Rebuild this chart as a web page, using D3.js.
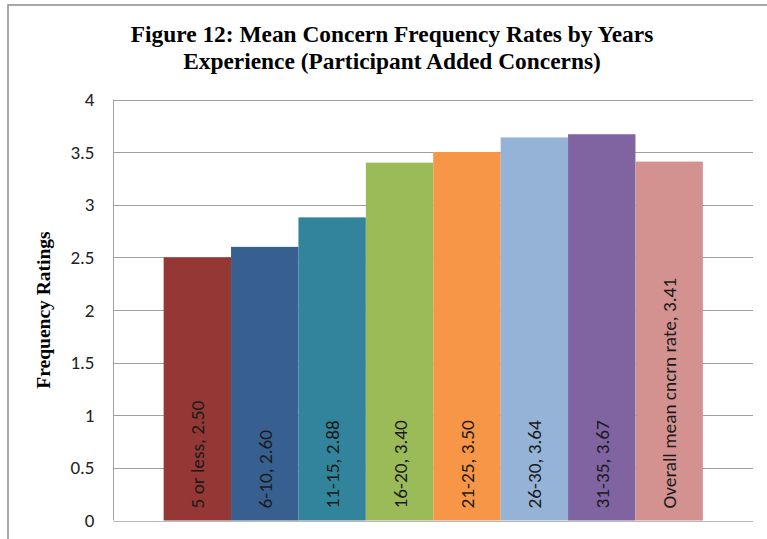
<!DOCTYPE html>
<html>
<head>
<meta charset="utf-8">
<script src="https://cdn.jsdelivr.net/npm/d3@7"></script>
<style>
  html, body { margin: 0; padding: 0; background: #fff; }
  svg { display: block; }
</style>
</head>
<body>
<svg id="chart" width="767" height="539"></svg>
<script>
// Mean concern frequency ratings by years of experience
const categories = ["5 or less", "6-10", "11-15", "16-20", "21-25", "26-30", "31-35", "Overall mean cncrn rate"];
const values = [2.50, 2.60, 2.88, 3.40, 3.50, 3.64, 3.67, 3.41];
const colors = ["#953735", "#375f8f", "#31849b", "#9bbb59", "#f79646", "#95b3d7", "#8064a2", "#d39290"];
const yTicks = [0, 0.5, 1, 1.5, 2, 2.5, 3, 3.5, 4];
const titleLines = ["Figure 12: Mean Concern Frequency Rates by Years", "Experience (Participant Added Concerns)"];
const yTitle = "Frequency Ratings";

const svg = d3.select("#chart");
const W = 767, H = 539;
const plot = { left: 113.5, right: 753, top: 99.5, bottom: 520.5 };
const sansFont = "Carlito, Lato, 'Open Sans', sans-serif";
const serifFont = "'Liberation Serif', 'Times New Roman', serif";

// chart frame
svg.append("rect")
  .attr("x", 8).attr("y", 5)
  .attr("width", W + 10).attr("height", H + 10)
  .attr("fill", "#fff").attr("stroke", "#8a8a8a").attr("stroke-width", 1.5);

const x = d3.scaleBand()
  .domain(categories)
  .range([plot.left, plot.right])
  .paddingInner(0)
  .paddingOuter(0.744);

const y = d3.scaleLinear().domain([0, 4]).range([plot.bottom, plot.top]);

// gridlines
svg.append("g")
  .selectAll("line")
  .data(yTicks)
  .join("line")
  .attr("x1", plot.left).attr("x2", plot.right)
  .attr("y1", d => Math.round(y(d)) + 0.5).attr("y2", d => Math.round(y(d)) + 0.5)
  .attr("stroke", d => d === 0 ? "#b8b8b8" : "#a0a0a0")
  .attr("stroke-width", 1);

// left axis line
svg.append("line")
  .attr("x1", plot.left).attr("x2", plot.left)
  .attr("y1", plot.top).attr("y2", plot.bottom)
  .attr("stroke", "#a0a0a0");

// y axis tick labels
const yAxis = d3.axisLeft(y).tickValues(yTicks).tickSize(0).tickPadding(19)
  .tickFormat(d => d3.format("")(d));
const gy = svg.append("g").attr("transform", `translate(${plot.left},0)`).call(yAxis);
gy.select(".domain").remove();
gy.selectAll("text")
  .attr("font-family", sansFont)
  .attr("font-size", 19)
  .attr("fill", "#222");

// bars
svg.append("g")
  .selectAll("rect")
  .data(categories)
  .join("rect")
  .attr("x", d => x(d))
  .attr("width", x.bandwidth())
  .attr("y", (d, i) => y(values[i]))
  .attr("height", (d, i) => y(0) - y(values[i]))
  .attr("fill", (d, i) => colors[i]);

// data labels inside bars
svg.append("g")
  .selectAll("text")
  .data(categories)
  .join("text")
  .attr("transform", d => `translate(${x(d) + x.bandwidth() / 2 + 7},${plot.bottom - 12}) rotate(-90)`)
  .attr("text-anchor", "start")
  .attr("font-family", sansFont)
  .attr("font-size", 19.3)
  .attr("fill", "#1a1a1a")
  .text((d, i) => `${d}, ${values[i].toFixed(2)}`);

// title
svg.append("g")
  .selectAll("text")
  .data(titleLines)
  .join("text")
  .attr("x", 392)
  .attr("y", (d, i) => 42 + i * 27)
  .attr("text-anchor", "middle")
  .attr("font-family", serifFont)
  .attr("font-weight", "bold")
  .attr("font-size", 23.4)
  .attr("fill", "#000")
  .text(d => d);

// y axis title
svg.append("text")
  .attr("transform", `translate(50,310) rotate(-90)`)
  .attr("text-anchor", "middle")
  .attr("font-family", serifFont)
  .attr("font-weight", "bold")
  .attr("font-size", 19.5)
  .attr("fill", "#000")
  .text(yTitle);
</script>
</body>
</html>
